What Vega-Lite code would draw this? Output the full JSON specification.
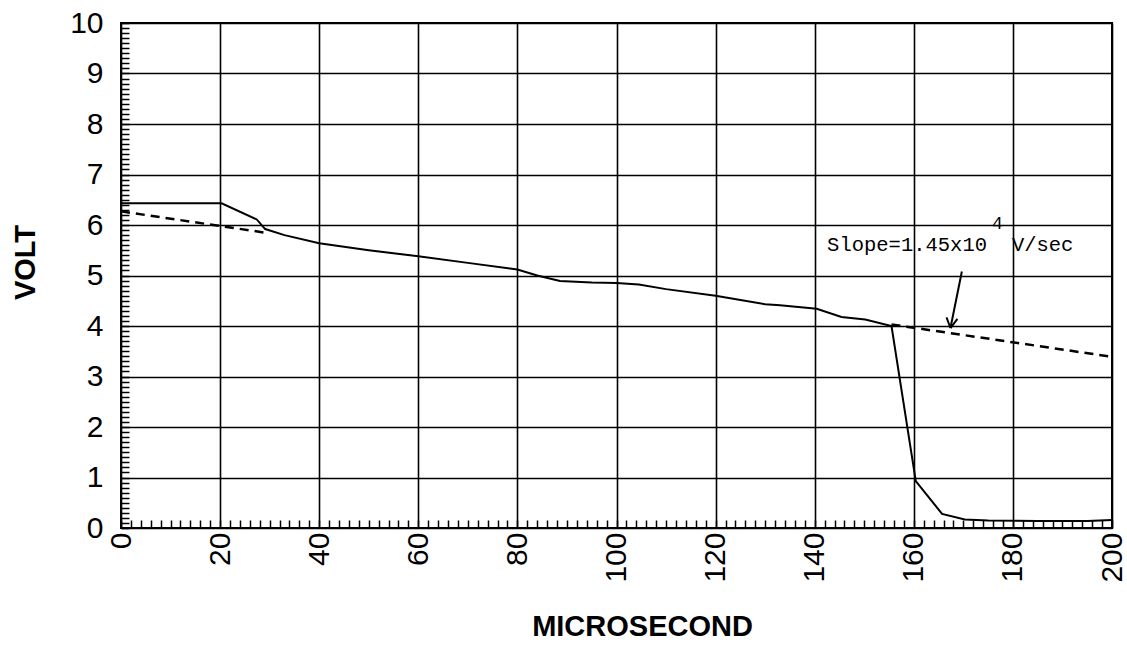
{
  "$schema": "https://vega.github.io/schema/vega-lite/v6.json",
  "autosize": {"type": "none"},
  "padding": {"left": 121, "top": 23, "right": 15, "bottom": 126},
  "width": 991,
  "height": 505,
  "background": "white",
  "config": {
    "view": {"stroke": "black", "strokeWidth": 2},
    "axis": {"domain": false}
  },
  "datasets": {
    "solid": [
      {"t": 0, "v": 6.43}, {"t": 20.3, "v": 6.43}, {"t": 27.4, "v": 6.11}, {"t": 29.1, "v": 5.92},
      {"t": 33, "v": 5.8}, {"t": 40, "v": 5.64}, {"t": 50, "v": 5.5}, {"t": 60, "v": 5.38},
      {"t": 70, "v": 5.25}, {"t": 80, "v": 5.12}, {"t": 84, "v": 5.0}, {"t": 88.6, "v": 4.89},
      {"t": 95, "v": 4.86}, {"t": 100, "v": 4.85}, {"t": 104.5, "v": 4.82}, {"t": 110, "v": 4.73},
      {"t": 120, "v": 4.6}, {"t": 130, "v": 4.43}, {"t": 133, "v": 4.41}, {"t": 140.4, "v": 4.34},
      {"t": 145.4, "v": 4.18}, {"t": 150.2, "v": 4.13}, {"t": 155.5, "v": 4.0}, {"t": 160.4, "v": 0.93},
      {"t": 165.7, "v": 0.28}, {"t": 170.3, "v": 0.17}, {"t": 175, "v": 0.15}, {"t": 185, "v": 0.14},
      {"t": 195, "v": 0.14}, {"t": 200, "v": 0.16}
    ],
    "dashed": [
      {"seg": "a", "t": 0, "v": 6.27}, {"seg": "a", "t": 29, "v": 5.85},
      {"seg": "b", "t": 155.5, "v": 4.03}, {"seg": "b", "t": 200, "v": 3.39}
    ],
    "arrow": [
      {"t": 169.7, "v": 5.08, "t2": 167.4, "v2": 3.96},
      {"t": 166.6, "v": 4.17, "t2": 167.4, "v2": 3.96},
      {"t": 168.8, "v": 4.14, "t2": 167.4, "v2": 3.96}
    ],
    "notes": [
      {"t": 142.5, "v": 5.49, "txt": "Slope=1.45x10", "kind": "main"},
      {"t": 175.8, "v": 5.92, "txt": "4", "kind": "sup"},
      {"t": 179.8, "v": 5.49, "txt": "V/sec", "kind": "main"}
    ]
  },
  "encoding": {
    "x": {
      "field": "t", "type": "quantitative",
      "scale": {"domain": [0, 200], "nice": false, "zero": false},
      "axis": {
        "title": "MICROSECOND",
        "values": [0,2,4,6,8,10,12,14,16,18,20,22,24,26,28,30,32,34,36,38,40,42,44,46,48,50,52,54,56,58,60,62,64,66,68,70,72,74,76,78,80,82,84,86,88,90,92,94,96,98,100,102,104,106,108,110,112,114,116,118,120,122,124,126,128,130,132,134,136,138,140,142,144,146,148,150,152,154,156,158,160,162,164,166,168,170,172,174,176,178,180,182,184,186,188,190,192,194,196,198,200],
        "labelExpr": "datum.value % 20 === 0 ? format(datum.value, 'd') : ''",
        "labelAngle": 270,
        "labelFont": "Liberation Sans",
        "labelFontSize": 30,
        "labelColor": "black",
        "labelPadding": 12,
        "labelOverlap": false,
        "labelFlush": false,
        "tickSize": -8,
        "tickColor": "black",
        "tickWidth": 1.5,
        "grid": true,
        "gridColor": "black",
        "gridWidth": 1.6,
        "gridOpacity": {"condition": {"test": "datum.value % 20 === 0", "value": 1}, "value": 0},
        "titleFont": "Liberation Sans",
        "titleFontWeight": "bold",
        "titleFontSize": 29,
        "titleColor": "black",
        "titleX": 521,
        "titleY": 98,
        "titleAlign": "center",
        "titleBaseline": "middle"
      }
    },
    "y": {
      "field": "v", "type": "quantitative",
      "scale": {"domain": [0, 10], "nice": false, "zero": false},
      "axis": {
        "title": "VOLT",
        "values": [0,0.1,0.2,0.3,0.4,0.5,0.6,0.7,0.8,0.9,1,1.1,1.2,1.3,1.4,1.5,1.6,1.7,1.8,1.9,2,2.1,2.2,2.3,2.4,2.5,2.6,2.7,2.8,2.9,3,3.1,3.2,3.3,3.4,3.5,3.6,3.7,3.8,3.9,4,4.1,4.2,4.3,4.4,4.5,4.6,4.7,4.8,4.9,5,5.1,5.2,5.3,5.4,5.5,5.6,5.7,5.8,5.9,6,6.1,6.2,6.3,6.4,6.5,6.6,6.7,6.8,6.9,7,7.1,7.2,7.3,7.4,7.5,7.6,7.7,7.8,7.9,8,8.1,8.2,8.3,8.4,8.5,8.6,8.7,8.8,8.9,9,9.1,9.2,9.3,9.4,9.5,9.6,9.7,9.8,9.9,10],
        "labelExpr": "datum.value % 1 === 0 ? format(datum.value, 'd') : ''",
        "labelFont": "Liberation Sans",
        "labelFontSize": 30,
        "labelColor": "black",
        "labelPadding": 26,
        "labelOverlap": false,
        "labelFlush": false,
        "tickSize": -8,
        "tickColor": "black",
        "tickWidth": 1.5,
        "grid": true,
        "gridColor": "black",
        "gridWidth": 1.6,
        "gridOpacity": {"condition": {"test": "datum.value % 1 === 0", "value": 1}, "value": 0},
        "titleFont": "Liberation Sans",
        "titleFontWeight": "bold",
        "titleFontSize": 29,
        "titleColor": "black",
        "titleAngle": 270,
        "titleX": -96,
        "titleY": 239,
        "titleAlign": "center",
        "titleBaseline": "middle"
      }
    }
  },
  "layer": [
    {
      "data": {"name": "solid"},
      "mark": {"type": "line", "color": "black", "strokeWidth": 2}
    },
    {
      "data": {"name": "dashed"},
      "mark": {"type": "line", "color": "black", "strokeWidth": 2.5, "strokeDash": [9, 6]},
      "encoding": {
        "detail": {"field": "seg", "type": "nominal"}
      }
    },
    {
      "data": {"name": "arrow"},
      "mark": {"type": "rule", "color": "black", "strokeWidth": 2},
      "encoding": {
        "x2": {"field": "t2"},
        "y2": {"field": "v2"}
      }
    },
    {
      "data": {"name": "notes"},
      "mark": {"type": "text", "align": "left", "baseline": "alphabetic", "font": "Liberation Mono", "color": "black"},
      "encoding": {
        "text": {"field": "txt"},
        "size": {"field": "kind", "type": "nominal", "scale": {"domain": ["main", "sup"], "range": [20.5, 18]}, "legend": null}
      }
    }
  ]
}
